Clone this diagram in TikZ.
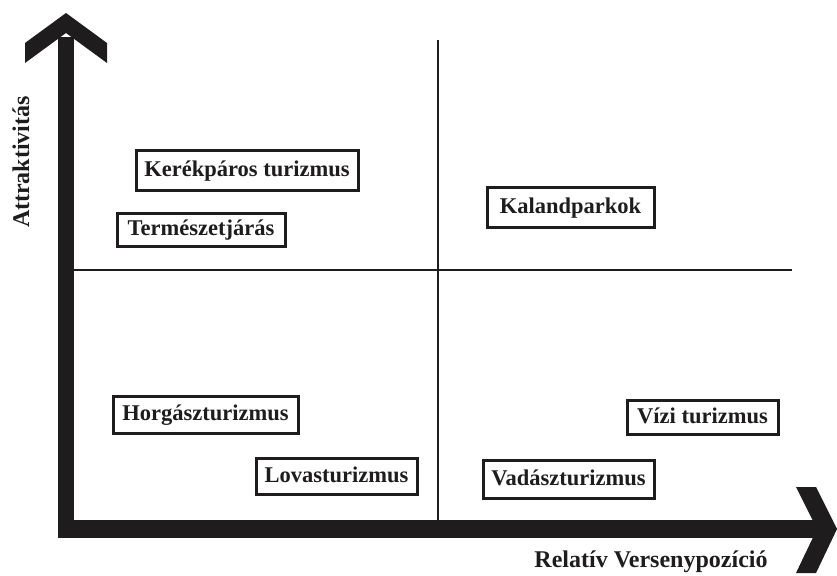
\documentclass[tikz,border=0pt]{standalone}
\usepackage{fontspec}
\setmainfont{Liberation Serif}
\usetikzlibrary{calc}
\definecolor{InkBlack}{RGB}{30,28,28}

\begin{document}
\begin{tikzpicture}[x=1pt,y=-1pt,
    quadbox/.style={draw=InkBlack,line width=3pt,fill=white,inner sep=0pt,
      minimum height=37pt,text height=16pt,text depth=4pt,align=center,
      font=\fontsize{22.5}{26}\selectfont\bfseries,text=InkBlack},
    axislabel/.style={font=\fontsize{24}{28}\selectfont\bfseries,text=InkBlack,inner sep=0pt},
    divider/.style={draw=InkBlack,line width=2.6pt}
  ]
    \useasboundingbox (0,0) rectangle (837,575);

    \coordinate (origin) at (66,529);
    \coordinate (ytip) at (66,13);
    \coordinate (xtip) at (837,529);
    \coordinate (midtop) at (438,40);
    \coordinate (midbot) at (438,520);
    \coordinate (midleft) at (74,270);
    \coordinate (midright) at (792,270);

    % quadrant dividers
    \draw[divider] (midtop) -- (midbot);
    \draw[divider] (midleft) -- (midright);

    % axes with chevron heads
    \draw[InkBlack,line width=16pt] ($(origin)+(0,9)$) -- ($(ytip)+(0,24)$);
    \draw[InkBlack,line width=18pt] ($(origin)+(-8,0)$) -- ($(xtip)+(-12,0)$);
    \fill[InkBlack] (ytip) -- ++(-41,30) -- ++(0,20) -- ($(ytip)+(0,20)$)
      -- ($(ytip)+(41,50)$) -- ++(0,-20) -- cycle;
    \fill[InkBlack] (xtip) -- ++(-21,-42) -- ++(-20,0) -- ($(xtip)+(-20,0)$)
      -- ($(xtip)+(-41,44)$) -- ++(20,0) -- cycle;

    \node[axislabel,rotate=90] (ylabel) at (21,162) {Attraktivitás};
    \node[axislabel] (xlabel) at (651,562) {Relatív Versenypozíció};

    \node[quadbox,minimum width=222pt,minimum height=40pt] (kerekpar) at (247,170) {Kerékpáros turizmus};
    \node[quadbox,minimum width=168pt,minimum height=33pt] (termeszet) at (201,229.5) {Természetjárás};
    \node[quadbox,minimum width=167pt,minimum height=40pt] (kaland) at (570.5,207) {Kalandparkok};
    \node[quadbox,minimum width=185pt] (horgasz) at (205.5,414.5) {Horgászturizmus};
    \node[quadbox,minimum width=161pt,minimum height=36pt] (lovas) at (336.5,476) {Lovasturizmus};
    \node[quadbox,minimum width=151pt,minimum height=34pt] (vizi) at (702.5,417) {Vízi turizmus};
    \node[quadbox,minimum width=171pt,minimum height=38pt] (vadasz) at (568.5,479) {Vadászturizmus};
  \end{tikzpicture}
\end{document}
